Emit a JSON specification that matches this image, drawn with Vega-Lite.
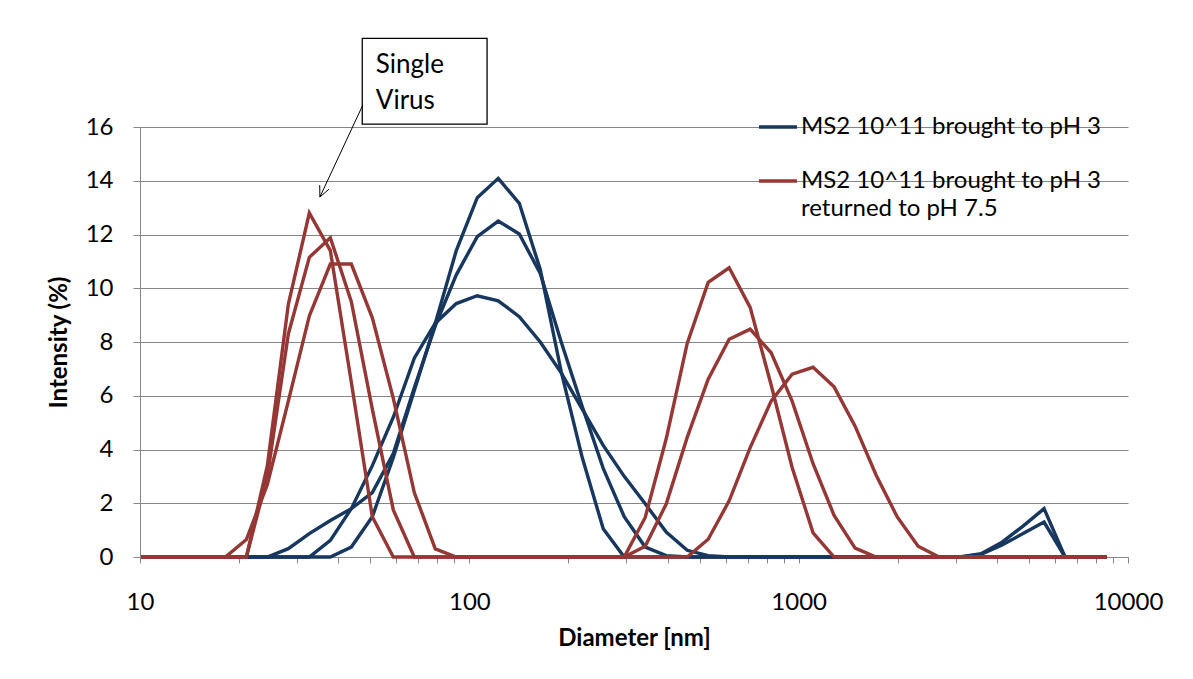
{
  "$schema": "https://vega.github.io/schema/vega-lite/v6.json",
  "width": 988,
  "height": 430,
  "autosize": {"type": "none"},
  "padding": {"left": 140, "top": 127, "right": 65, "bottom": 122},
  "background": "white",
  "config": {"view": {"stroke": null}, "font": "Lato"},
  "datasets": {
    "runs": [
      {"run": "B1", "series": "MS2 10^11 brought to pH 3"},
      {"run": "B2", "series": "MS2 10^11 brought to pH 3"},
      {"run": "B3", "series": "MS2 10^11 brought to pH 3"},
      {"run": "R1", "series": "MS2 10^11 brought to pH 3 returned to pH 7.5"},
      {"run": "R2", "series": "MS2 10^11 brought to pH 3 returned to pH 7.5"},
      {"run": "R3", "series": "MS2 10^11 brought to pH 3 returned to pH 7.5"}
    ],
    "dls": [
      {"run":"B1","d":10.1,"v":0},{"run":"B1","d":11.7,"v":0},{"run":"B1","d":13.54,"v":0},{"run":"B1","d":15.69,"v":0},{"run":"B1","d":18.17,"v":0},{"run":"B1","d":21.04,"v":0},{"run":"B1","d":24.36,"v":0},{"run":"B1","d":28.21,"v":0},{"run":"B1","d":32.67,"v":0},{"run":"B1","d":37.84,"v":0},{"run":"B1","d":43.82,"v":0.37},{"run":"B1","d":50.75,"v":1.5},{"run":"B1","d":58.77,"v":3.7},{"run":"B1","d":68.06,"v":6.2},{"run":"B1","d":78.82,"v":8.7},{"run":"B1","d":91.28,"v":11.4},{"run":"B1","d":105.7,"v":13.37},{"run":"B1","d":122.4,"v":14.09},{"run":"B1","d":141.8,"v":13.16},{"run":"B1","d":164.2,"v":10.7},{"run":"B1","d":190.1,"v":6.9},{"run":"B1","d":220.2,"v":3.7},{"run":"B1","d":255,"v":1.05},{"run":"B1","d":295.3,"v":0},{"run":"B1","d":342,"v":0},{"run":"B1","d":396.1,"v":0},{"run":"B1","d":458.7,"v":0},{"run":"B1","d":531.2,"v":0},{"run":"B1","d":615.1,"v":0},{"run":"B1","d":712.4,"v":0},{"run":"B1","d":825,"v":0},{"run":"B1","d":955.4,"v":0},{"run":"B1","d":1106,"v":0},{"run":"B1","d":1281,"v":0},{"run":"B1","d":1484,"v":0},{"run":"B1","d":1718,"v":0},{"run":"B1","d":1990,"v":0},{"run":"B1","d":2305,"v":0},{"run":"B1","d":2669,"v":0},{"run":"B1","d":3091,"v":0},{"run":"B1","d":3580,"v":0.12},{"run":"B1","d":4145,"v":0.55},{"run":"B1","d":4801,"v":1.15},{"run":"B1","d":5560,"v":1.8},{"run":"B1","d":6439,"v":0},{"run":"B1","d":7456,"v":0},{"run":"B1","d":8635,"v":0},
      {"run":"B2","d":10.1,"v":0},{"run":"B2","d":11.7,"v":0},{"run":"B2","d":13.54,"v":0},{"run":"B2","d":15.69,"v":0},{"run":"B2","d":18.17,"v":0},{"run":"B2","d":21.04,"v":0},{"run":"B2","d":24.36,"v":0},{"run":"B2","d":28.21,"v":0},{"run":"B2","d":32.67,"v":0},{"run":"B2","d":37.84,"v":0.62},{"run":"B2","d":43.82,"v":1.8},{"run":"B2","d":50.75,"v":2.4},{"run":"B2","d":58.77,"v":3.85},{"run":"B2","d":68.06,"v":6.3},{"run":"B2","d":78.82,"v":8.6},{"run":"B2","d":91.28,"v":10.5},{"run":"B2","d":105.7,"v":11.92},{"run":"B2","d":122.4,"v":12.5},{"run":"B2","d":141.8,"v":12.02},{"run":"B2","d":164.2,"v":10.55},{"run":"B2","d":190.1,"v":8.0},{"run":"B2","d":220.2,"v":5.6},{"run":"B2","d":255,"v":3.3},{"run":"B2","d":295.3,"v":1.5},{"run":"B2","d":342,"v":0.37},{"run":"B2","d":396.1,"v":0.05},{"run":"B2","d":458.7,"v":0},{"run":"B2","d":531.2,"v":0},{"run":"B2","d":615.1,"v":0},{"run":"B2","d":712.4,"v":0},{"run":"B2","d":825,"v":0},{"run":"B2","d":955.4,"v":0},{"run":"B2","d":1106,"v":0},{"run":"B2","d":1281,"v":0},{"run":"B2","d":1484,"v":0},{"run":"B2","d":1718,"v":0},{"run":"B2","d":1990,"v":0},{"run":"B2","d":2305,"v":0},{"run":"B2","d":2669,"v":0},{"run":"B2","d":3091,"v":0},{"run":"B2","d":3580,"v":0.1},{"run":"B2","d":4145,"v":0.45},{"run":"B2","d":4801,"v":0.87},{"run":"B2","d":5560,"v":1.3},{"run":"B2","d":6439,"v":0},{"run":"B2","d":7456,"v":0},{"run":"B2","d":8635,"v":0},
      {"run":"B3","d":10.1,"v":0},{"run":"B3","d":11.7,"v":0},{"run":"B3","d":13.54,"v":0},{"run":"B3","d":15.69,"v":0},{"run":"B3","d":18.17,"v":0},{"run":"B3","d":21.04,"v":0},{"run":"B3","d":24.36,"v":0},{"run":"B3","d":28.21,"v":0.31},{"run":"B3","d":32.67,"v":0.87},{"run":"B3","d":37.84,"v":1.36},{"run":"B3","d":43.82,"v":1.8},{"run":"B3","d":50.75,"v":3.4},{"run":"B3","d":58.77,"v":5.2},{"run":"B3","d":68.06,"v":7.4},{"run":"B3","d":78.82,"v":8.7},{"run":"B3","d":91.28,"v":9.43},{"run":"B3","d":105.7,"v":9.72},{"run":"B3","d":122.4,"v":9.53},{"run":"B3","d":141.8,"v":8.94},{"run":"B3","d":164.2,"v":8.0},{"run":"B3","d":190.1,"v":6.85},{"run":"B3","d":220.2,"v":5.5},{"run":"B3","d":255,"v":4.15},{"run":"B3","d":295.3,"v":3.0},{"run":"B3","d":342,"v":1.98},{"run":"B3","d":396.1,"v":0.93},{"run":"B3","d":458.7,"v":0.25},{"run":"B3","d":531.2,"v":0.05},{"run":"B3","d":615.1,"v":0},{"run":"B3","d":712.4,"v":0},{"run":"B3","d":825,"v":0},{"run":"B3","d":955.4,"v":0},{"run":"B3","d":1106,"v":0},{"run":"B3","d":1281,"v":0},{"run":"B3","d":1484,"v":0},{"run":"B3","d":1718,"v":0},{"run":"B3","d":1990,"v":0},{"run":"B3","d":2305,"v":0},{"run":"B3","d":2669,"v":0},{"run":"B3","d":3091,"v":0},{"run":"B3","d":3580,"v":0},{"run":"B3","d":4145,"v":0},{"run":"B3","d":4801,"v":0},{"run":"B3","d":5560,"v":0},{"run":"B3","d":6439,"v":0},{"run":"B3","d":7456,"v":0},{"run":"B3","d":8635,"v":0},
      {"run":"R1","d":10.1,"v":0},{"run":"R1","d":11.7,"v":0},{"run":"R1","d":13.54,"v":0},{"run":"R1","d":15.69,"v":0},{"run":"R1","d":18.17,"v":0},{"run":"R1","d":21.04,"v":0},{"run":"R1","d":24.36,"v":3.4},{"run":"R1","d":28.21,"v":9.4},{"run":"R1","d":32.67,"v":12.8},{"run":"R1","d":37.84,"v":11.4},{"run":"R1","d":43.82,"v":6.5},{"run":"R1","d":50.75,"v":1.5},{"run":"R1","d":58.77,"v":0},{"run":"R1","d":68.06,"v":0},{"run":"R1","d":78.82,"v":0},{"run":"R1","d":91.28,"v":0},{"run":"R1","d":105.7,"v":0},{"run":"R1","d":122.4,"v":0},{"run":"R1","d":141.8,"v":0},{"run":"R1","d":164.2,"v":0},{"run":"R1","d":190.1,"v":0},{"run":"R1","d":220.2,"v":0},{"run":"R1","d":255,"v":0},{"run":"R1","d":295.3,"v":0},{"run":"R1","d":342,"v":1.47},{"run":"R1","d":396.1,"v":4.4},{"run":"R1","d":458.7,"v":7.95},{"run":"R1","d":531.2,"v":10.22},{"run":"R1","d":615.1,"v":10.76},{"run":"R1","d":712.4,"v":9.29},{"run":"R1","d":825,"v":6.4},{"run":"R1","d":955.4,"v":3.33},{"run":"R1","d":1106,"v":0.9},{"run":"R1","d":1281,"v":0},{"run":"R1","d":1484,"v":0},{"run":"R1","d":1718,"v":0},{"run":"R1","d":1990,"v":0},{"run":"R1","d":2305,"v":0},{"run":"R1","d":2669,"v":0},{"run":"R1","d":3091,"v":0},{"run":"R1","d":3580,"v":0},{"run":"R1","d":4145,"v":0},{"run":"R1","d":4801,"v":0},{"run":"R1","d":5560,"v":0},{"run":"R1","d":6439,"v":0},{"run":"R1","d":7456,"v":0},{"run":"R1","d":8635,"v":0},
      {"run":"R2","d":10.1,"v":0},{"run":"R2","d":11.7,"v":0},{"run":"R2","d":13.54,"v":0},{"run":"R2","d":15.69,"v":0},{"run":"R2","d":18.17,"v":0},{"run":"R2","d":21.04,"v":0},{"run":"R2","d":24.36,"v":3.0},{"run":"R2","d":28.21,"v":8.3},{"run":"R2","d":32.67,"v":11.15},{"run":"R2","d":37.84,"v":11.88},{"run":"R2","d":43.82,"v":9.5},{"run":"R2","d":50.75,"v":5.5},{"run":"R2","d":58.77,"v":1.75},{"run":"R2","d":68.06,"v":0},{"run":"R2","d":78.82,"v":0},{"run":"R2","d":91.28,"v":0},{"run":"R2","d":105.7,"v":0},{"run":"R2","d":122.4,"v":0},{"run":"R2","d":141.8,"v":0},{"run":"R2","d":164.2,"v":0},{"run":"R2","d":190.1,"v":0},{"run":"R2","d":220.2,"v":0},{"run":"R2","d":255,"v":0},{"run":"R2","d":295.3,"v":0},{"run":"R2","d":342,"v":0.4},{"run":"R2","d":396.1,"v":1.97},{"run":"R2","d":458.7,"v":4.45},{"run":"R2","d":531.2,"v":6.62},{"run":"R2","d":615.1,"v":8.1},{"run":"R2","d":712.4,"v":8.48},{"run":"R2","d":825,"v":7.6},{"run":"R2","d":955.4,"v":5.8},{"run":"R2","d":1106,"v":3.47},{"run":"R2","d":1281,"v":1.55},{"run":"R2","d":1484,"v":0.33},{"run":"R2","d":1718,"v":0},{"run":"R2","d":1990,"v":0},{"run":"R2","d":2305,"v":0},{"run":"R2","d":2669,"v":0},{"run":"R2","d":3091,"v":0},{"run":"R2","d":3580,"v":0},{"run":"R2","d":4145,"v":0},{"run":"R2","d":4801,"v":0},{"run":"R2","d":5560,"v":0},{"run":"R2","d":6439,"v":0},{"run":"R2","d":7456,"v":0},{"run":"R2","d":8635,"v":0},
      {"run":"R3","d":10.1,"v":0},{"run":"R3","d":11.7,"v":0},{"run":"R3","d":13.54,"v":0},{"run":"R3","d":15.69,"v":0},{"run":"R3","d":18.17,"v":0},{"run":"R3","d":21.04,"v":0.65},{"run":"R3","d":24.36,"v":2.7},{"run":"R3","d":28.21,"v":5.8},{"run":"R3","d":32.67,"v":8.97},{"run":"R3","d":37.84,"v":10.9},{"run":"R3","d":43.82,"v":10.9},{"run":"R3","d":50.75,"v":8.9},{"run":"R3","d":58.77,"v":5.9},{"run":"R3","d":68.06,"v":2.4},{"run":"R3","d":78.82,"v":0.3},{"run":"R3","d":91.28,"v":0},{"run":"R3","d":105.7,"v":0},{"run":"R3","d":122.4,"v":0},{"run":"R3","d":141.8,"v":0},{"run":"R3","d":164.2,"v":0},{"run":"R3","d":190.1,"v":0},{"run":"R3","d":220.2,"v":0},{"run":"R3","d":255,"v":0},{"run":"R3","d":295.3,"v":0},{"run":"R3","d":342,"v":0},{"run":"R3","d":396.1,"v":0},{"run":"R3","d":458.7,"v":0},{"run":"R3","d":531.2,"v":0.66},{"run":"R3","d":615.1,"v":2.09},{"run":"R3","d":712.4,"v":4.07},{"run":"R3","d":825,"v":5.8},{"run":"R3","d":955.4,"v":6.8},{"run":"R3","d":1106,"v":7.06},{"run":"R3","d":1281,"v":6.33},{"run":"R3","d":1484,"v":4.87},{"run":"R3","d":1718,"v":3.05},{"run":"R3","d":1990,"v":1.5},{"run":"R3","d":2305,"v":0.4},{"run":"R3","d":2669,"v":0},{"run":"R3","d":3091,"v":0},{"run":"R3","d":3580,"v":0},{"run":"R3","d":4145,"v":0},{"run":"R3","d":4801,"v":0},{"run":"R3","d":5560,"v":0},{"run":"R3","d":6439,"v":0},{"run":"R3","d":7456,"v":0},{"run":"R3","d":8635,"v":0}
    ],
    "box": [{"d1": 47.3, "d2": 113.2, "i1": 16.11, "i2": 19.3, "x": 52.0, "y": 18.0, "label": "Single\nVirus"}],
    "arrow": [
      {"d1": 47.5, "i1": 16.82, "d2": 35.18, "i2": 13.395},
      {"d1": 35.18, "i1": 13.395, "d2": 37.49, "i2": 13.686},
      {"d1": 35.18, "i1": 13.395, "d2": 35.13, "i2": 13.84}
    ]
  },
  "layer": [
    {
      "data": {"name": "dls"},
      "transform": [
        {"lookup": "run", "from": {"data": {"name": "runs"}, "key": "run", "fields": ["series"]}},
        {"filter": "datum.series == 'MS2 10^11 brought to pH 3'"}
      ],
      "mark": {"type": "line", "strokeWidth": 3.4, "strokeJoin": "miter"},
      "encoding": {
        "x": {
          "field": "d", "type": "quantitative",
          "scale": {"type": "log", "domain": [10, 10000]},
          "axis": {
            "title": "Diameter [nm]",
            "values": [10,20,30,40,50,60,70,80,90,100,200,300,400,500,600,700,800,900,1000,2000,3000,4000,5000,6000,7000,8000,9000,10000],
            "labelExpr": "(datum.value == 10 || datum.value == 100 || datum.value == 1000 || datum.value == 10000) ? format(datum.value, 'd') : ''",
            "labelOverlap": false, "labelFlush": false,
            "grid": false, "tickSize": 6, "tickColor": "#868686", "domainColor": "#868686",
            "labelFont": "Lato", "labelFontSize": 24, "labelColor": "#000000", "labelPadding": 27,
            "titleFont": "Lato", "titleFontSize": 24, "titleFontWeight": "bold", "titleColor": "#000000", "titlePadding": 12
          }
        },
        "y": {
          "field": "v", "type": "quantitative",
          "scale": {"domain": [0, 16], "nice": false},
          "axis": {
            "title": "Intensity (%)",
            "values": [0,2,4,6,8,10,12,14,16],
            "grid": true, "gridColor": "#868686", "gridWidth": 1,
            "tickSize": 7, "tickColor": "#868686", "domainColor": "#868686",
            "labelFont": "Lato", "labelFontSize": 24, "labelColor": "#000000", "labelPadding": 20,
            "titleFont": "Lato", "titleFontSize": 24, "titleFontWeight": "bold", "titleColor": "#000000", "titlePadding": 14
          }
        },
        "color": {
          "field": "series", "type": "nominal",
          "scale": {"domain": ["MS2 10^11 brought to pH 3", "MS2 10^11 brought to pH 3 returned to pH 7.5"], "range": ["#17375E", "#953735"]},
          "legend": {
            "title": null, "orient": "none", "legendX": 617, "legendY": -21,
            "symbolType": "stroke", "symbolSize": 1444, "symbolStrokeWidth": 3.4,
            "labelFont": "Lato", "labelFontSize": 24, "labelColor": "#000000", "labelLimit": 400,
            "labelExpr": "datum.label == 'MS2 10^11 brought to pH 3 returned to pH 7.5' ? ['MS2 10^11 brought to pH 3', 'returned to pH 7.5'] : datum.label",
            "rowPadding": 21, "labelOffset": 2,
            "encode": {"labels": {"update": {"lineHeight": {"value": 28}}}}
          }
        },
        "detail": {"field": "run"}
      }
    },
    {
      "data": {"name": "dls"},
      "transform": [
        {"lookup": "run", "from": {"data": {"name": "runs"}, "key": "run", "fields": ["series"]}},
        {"filter": "datum.series != 'MS2 10^11 brought to pH 3'"}
      ],
      "mark": {"type": "line", "strokeWidth": 3.4, "strokeJoin": "miter"},
      "encoding": {
        "x": {"field": "d", "type": "quantitative"},
        "y": {"field": "v", "type": "quantitative"},
        "color": {"field": "series", "type": "nominal"},
        "detail": {"field": "run"}
      }
    },
    {
      "data": {"name": "box"},
      "mark": {"type": "rect", "fill": "white", "stroke": "black", "strokeWidth": 1.3},
      "encoding": {
        "x": {"field": "d1", "type": "quantitative"},
        "x2": {"field": "d2"},
        "y": {"field": "i1", "type": "quantitative"},
        "y2": {"field": "i2"}
      }
    },
    {
      "data": {"name": "box"},
      "mark": {"type": "text", "align": "left", "baseline": "alphabetic", "font": "Lato", "fontSize": 26, "lineBreak": "\n", "lineHeight": 36, "color": "black"},
      "encoding": {
        "x": {"field": "x", "type": "quantitative"},
        "y": {"field": "y", "type": "quantitative"},
        "text": {"field": "label"}
      }
    },
    {
      "data": {"name": "arrow"},
      "mark": {"type": "rule", "color": "black", "strokeWidth": 1},
      "encoding": {
        "x": {"field": "d1", "type": "quantitative"},
        "x2": {"field": "d2"},
        "y": {"field": "i1", "type": "quantitative"},
        "y2": {"field": "i2"}
      }
    }
  ]
}
